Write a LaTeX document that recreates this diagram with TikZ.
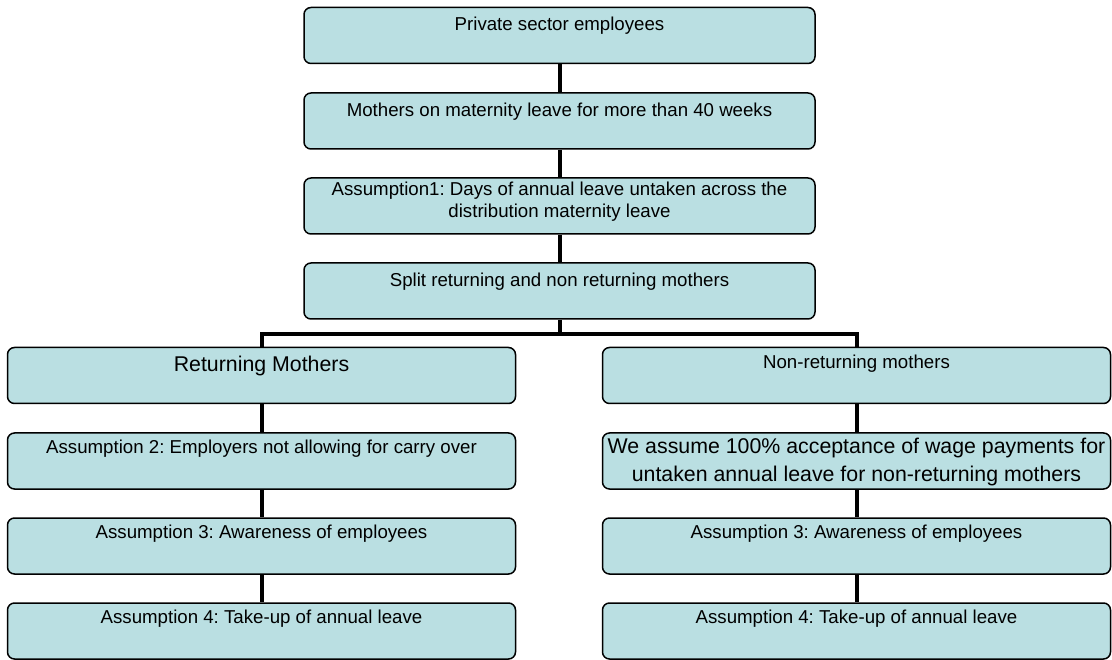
\documentclass[tikz,border=0pt]{standalone}
\usepackage{fontspec}
\setmainfont{Liberation Sans}
\frenchspacing
\definecolor{boxfill}{RGB}{186,223,226}
\begin{document}
\begin{tikzpicture}[x=1pt,y=-1pt,
  box/.style={draw=black,line width=1.5pt,fill=boxfill,rounded corners=7pt,
    minimum height=56pt,inner sep=0pt},
  widebox/.style={box,minimum width=511pt},
  colbox/.style={box,minimum width=508pt},
  txt/.style={anchor=base,inner sep=0pt,align=center,
    font=\fontsize{18.67}{22}\selectfont},
  bigtxt/.style={txt,font=\fontsize{21.33}{28}\selectfont},
  link/.style={line width=4pt}]
\useasboundingbox (0,0) rectangle (1112,660);
% central column
\node[widebox] (b1) at (559.5,35.5) {};
\node[widebox] (b2) at (559.5,121) {};
\node[widebox] (b3) at (559.5,206) {};
\node[widebox] (b4) at (559.5,291) {};
% left column
\node[colbox] (l1) at (261.5,375.5) {};
\node[colbox] (l2) at (261.5,461) {};
\node[colbox] (l3) at (261.5,546) {};
\node[colbox] (l4) at (261.5,631) {};
% right column
\node[colbox] (r1) at (856.5,375.5) {};
\node[colbox] (r2) at (856.5,461) {};
\node[colbox] (r3) at (856.5,546) {};
\node[colbox] (r4) at (856.5,631) {};
% texts (anchor = baseline of the last line)
\node[txt] (t1) at ([yshift=-23.5pt]b1.north) {Private sector employees};
\node[txt] (t2) at ([yshift=-24pt]b2.north) {Mothers on maternity leave for more than 40 weeks};
\node[txt] (t3) at ([yshift=-40pt]b3.north) {Assumption1: Days of annual leave untaken across the\\distribution maternity leave};
\node[txt] (t4) at ([yshift=-24pt]b4.north) {Split returning and non returning mothers};
\node[bigtxt] (tl1) at ([yshift=-25pt]l1.north) {Returning Mothers};
\node[txt] (tl2) at ([yshift=-21pt]l2.north) {Assumption 2: Employers not allowing for carry over};
\node[txt] (tl3) at ([yshift=-21pt]l3.north) {Assumption 3: Awareness of employees};
\node[txt] (tl4) at ([yshift=-21pt]l4.north) {Assumption 4: Take-up of annual leave};
\node[txt] (tr1) at ([yshift=-22pt]r1.north) {Non-returning mothers};
\node[bigtxt] (tr2) at ([yshift=-49pt]r2.north) {We assume 100\% acceptance of wage payments for\\untaken annual leave for non-returning mothers};
\node[txt] (tr3) at ([yshift=-21pt]r3.north) {Assumption 3: Awareness of employees};
\node[txt] (tr4) at ([yshift=-21pt]r4.north) {Assumption 4: Take-up of annual leave};
% connectors
\draw[link] (b1.south) -- (b2.north);
\draw[link] (b2.south) -- (b3.north);
\draw[link] (b3.south) -- (b4.north);
\coordinate (split) at ([yshift=-14pt]b4.south);
\draw[link] (b4.south) -- (split);
\draw[link] (l1.north) |- (split) -| (r1.north);
\draw[link] (l1.south) -- (l2.north);
\draw[link] (l2.south) -- (l3.north);
\draw[link] (l3.south) -- (l4.north);
\draw[link] (r1.south) -- (r2.north);
\draw[link] (r2.south) -- (r3.north);
\draw[link] (r3.south) -- (r4.north);
\end{tikzpicture}
\end{document}
